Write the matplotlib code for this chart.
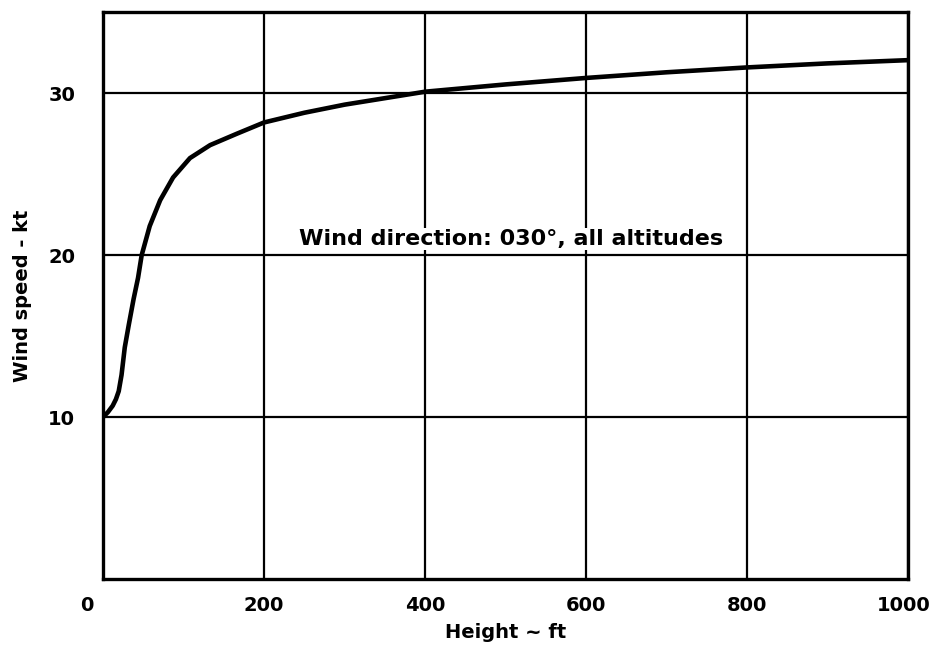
import numpy as np
import matplotlib.pyplot as plt
import matplotlib.transforms as mtransforms

# wind speed profile
height_ft = [0, 2, 6, 12, 16, 19.5, 23, 27, 32, 38, 43.5, 48, 58, 71, 87, 108,
             133, 166, 200, 250, 300, 350, 400, 500, 600, 700, 800, 900, 1000]
wind_kt = [10, 10.1, 10.3, 10.7, 11.1, 11.6, 12.6, 14.3, 15.7, 17.3, 18.6, 20.0,
           21.8, 23.4, 24.8, 26.0, 26.8, 27.5, 28.2, 28.8, 29.3, 29.7, 30.1,
           30.55, 30.95, 31.3, 31.6, 31.85, 32.05]

x_ticks = [0, 200, 400, 600, 800, 1000]
y_ticks = [10, 20, 30]

plt.rcParams['font.family'] = ['DejaVu Sans']
plt.rcParams['font.weight'] = 'bold'

fig = plt.figure(figsize=(9.34, 6.52), dpi=100)
ax = fig.add_axes([0.1103, 0.112, 0.862, 0.869])

ax.plot(height_ft, wind_kt, color='black', linewidth=3.3,
        solid_capstyle='round', solid_joinstyle='round')

ax.set_xlim(0, 1000)
ax.set_ylim(0, 35)
ax.set_xticks(x_ticks)
ax.set_yticks(y_ticks)
ax.set_xticklabels([str(v) for v in x_ticks], fontsize=14, fontweight='bold')
ax.set_yticklabels([str(v) for v in y_ticks], fontsize=14, fontweight='bold')
ax.tick_params(length=0)
ax.tick_params(axis='x', pad=12)
ax.tick_params(axis='y', pad=20)

# the "0" label sits left of the origin
lbl0 = ax.get_xticklabels()[0]
lbl0.set_transform(lbl0.get_transform() +
                   mtransforms.ScaledTranslation(-0.16, 0, fig.dpi_scale_trans))
# keep "1000" inside the picture
lbl_end = ax.get_xticklabels()[-1]
lbl_end.set_transform(lbl_end.get_transform() +
                      mtransforms.ScaledTranslation(-0.04, 0, fig.dpi_scale_trans))

ax.grid(True, color='black', linewidth=1.6)
for s in ax.spines.values():
    s.set_linewidth(2.4)

ax.set_xlabel('Height ~ ft', fontsize=14, fontweight='bold', labelpad=6)
ax.set_ylabel('Wind speed - kt', fontsize=14, fontweight='bold')
ax.yaxis.set_label_coords(-0.088, 0.5)

ax.text(507, 21.0, 'Wind direction: 030°, all altitudes', ha='center', va='center',
        fontsize=16, fontweight='bold',
        bbox=dict(facecolor='white', edgecolor='none', pad=1))

fig.savefig('out.png', dpi=100)
